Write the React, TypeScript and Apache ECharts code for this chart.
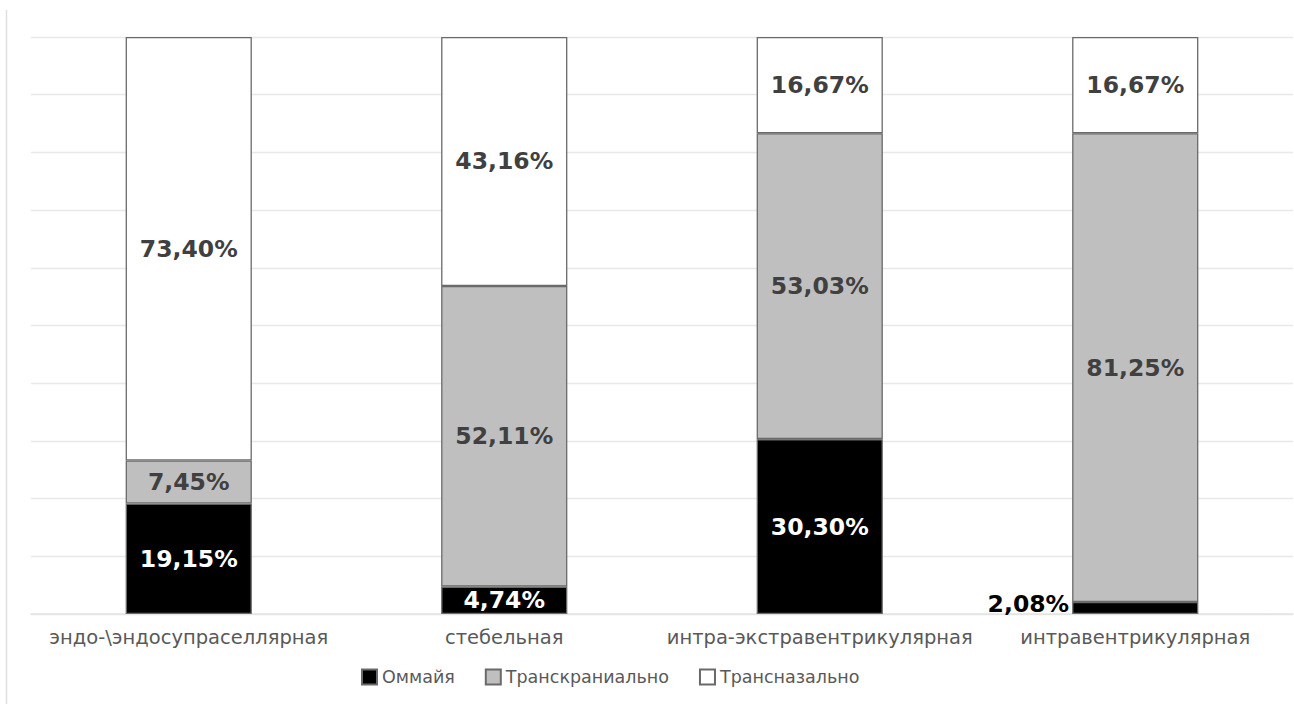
import React, { useEffect, useRef } from "react";
import * as echarts from "echarts";

const categories = [
  "эндо-\\эндосупраселлярная",
  "стебельная",
  "интра-экстравентрикулярная",
  "интравентрикулярная",
];
const seriesNames = ["Оммайя", "Транскраниально", "Трансназально"];
const ommaya = [19.15, 4.74, 30.3, 2.08];
const transcranial = [7.45, 52.11, 53.03, 81.25];
const transnasal = [73.4, 43.16, 16.67, 16.67];

const fmt = (v: number) => v.toFixed(2).replace(".", ",") + "%";

export default function App() {
  const ref = useRef<HTMLDivElement>(null);
  useEffect(() => {
    if (!ref.current) return;
    const chart = echarts.init(ref.current, null, { renderer: "svg" });
    const border = { borderColor: "#6a6a6a", borderWidth: 1.3 };
    const labelBase = {
      show: true,
      position: "inside",
      fontFamily: "DejaVu Sans",
      fontWeight: "bold",
      fontSize: 23.5,
      formatter: (p: any) => fmt(p.value),
    };
    chart.setOption({
      animation: false,
      textStyle: { fontFamily: "DejaVu Sans" },
      grid: { left: 31, right: 1, top: 37, bottom: 90, containLabel: false },
      legend: {
        left: 356,
        top: 663,
        icon: "rect",
        itemWidth: 15,
        itemHeight: 15,
        itemGap: 30,
        textStyle: { fontSize: 17.5, color: "#595959", fontFamily: "DejaVu Sans" },
        data: seriesNames,
      },
      xAxis: {
        type: "category",
        data: categories,
        axisLine: { lineStyle: { color: "#e3e3e3", width: 1.5 } },
        axisTick: { show: false },
        axisLabel: { color: "#595959", fontSize: 19.5, margin: 13, fontFamily: "DejaVu Sans", interval: 0 },
      },
      yAxis: {
        type: "value",
        min: 0,
        max: 100,
        interval: 10,
        axisLabel: { show: false },
        axisLine: { show: false },
        axisTick: { show: false },
        splitLine: { lineStyle: { color: "#e8e8e8", width: 1.3 } },
      },
      series: [
        {
          name: seriesNames[0],
          type: "bar",
          stack: "s",
          barCategoryGap: "60%",
          data: ommaya.map((v, i) =>
            i === 3
              ? { value: v, label: { position: "left", color: "#000000", distance: 3, offset: [0, -4] } }
              : v
          ),
          itemStyle: { color: "#000000", ...border },
          label: { ...labelBase, color: "#ffffff" },
        },
        {
          name: seriesNames[1],
          type: "bar",
          stack: "s",
          data: transcranial,
          itemStyle: { color: "#bfbfbf", ...border },
          label: { ...labelBase, color: "#404040" },
        },
        {
          name: seriesNames[2],
          type: "bar",
          stack: "s",
          data: transnasal,
          itemStyle: { color: "#ffffff", ...border },
          label: { ...labelBase, color: "#404040" },
        },
      ],
      graphic: [
        {
          type: "line",
          shape: { x1: 6.5, y1: 10, x2: 6.5, y2: 704 },
          style: { stroke: "#e0e0e0", lineWidth: 1.5 },
        },
      ],
    });
    return () => chart.dispose();
  }, []);
  return (
    <div
      ref={ref}
      style={{ position: "fixed", left: 0, top: 0, width: 1294, height: 704, background: "#ffffff" }}
    />
  );
}
